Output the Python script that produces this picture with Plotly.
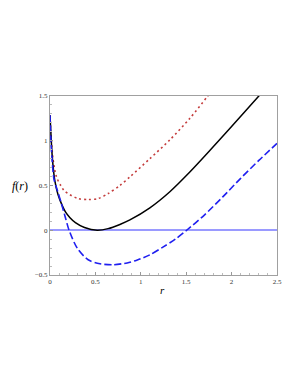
import plotly.graph_objects as go

# Black solid curve
r_black = [0, 0.01, 0.025, 0.052, 0.088, 0.135, 0.17, 0.22, 0.28, 0.38, 0.52, 0.64, 0.77, 0.88,
           1.10, 1.32, 1.54, 1.76, 1.98, 2.30, 2.40]
f_black = [1.285, 1.08, 0.82, 0.56, 0.40, 0.275, 0.205, 0.14, 0.085, 0.03, 0.0, 0.018, 0.065, 0.115,
           0.25, 0.43, 0.65, 0.89, 1.136, 1.50, 1.615]

# Red dotted curve
r_red = [0, 0.01, 0.033, 0.07, 0.118, 0.15, 0.198, 0.31, 0.42, 0.53, 0.64, 0.77, 0.88,
         1.10, 1.32, 1.54, 1.73, 1.80]
f_red = [1.285, 1.08, 0.80, 0.60, 0.50, 0.45, 0.41, 0.354, 0.343, 0.354, 0.41, 0.50, 0.596,
         0.80, 1.01, 1.25, 1.49, 1.58]

# Blue dashed curve
r_blue = [0, 0.01, 0.025, 0.044, 0.08, 0.125, 0.17, 0.21, 0.30, 0.42, 0.55, 0.70, 0.85, 0.955,
          1.10, 1.248, 1.38, 1.505, 1.70, 1.90, 2.10, 2.30, 2.50]
f_blue = [1.285, 1.0, 0.76, 0.57, 0.45, 0.30, 0.14, 0.0, -0.20, -0.33, -0.375, -0.385, -0.365, -0.335,
          -0.275, -0.186, -0.10, 0.0, 0.17, 0.37, 0.58, 0.78, 0.97]

x_ticks = [0, 0.5, 1, 1.5, 2, 2.5]
x_labels = ["0", "0.5", "1", "1.5", "2", "2.5"]
y_ticks = [-0.5, 0, 0.5, 1, 1.5]
y_labels = ["\u22120.5", "0", "0.5", "1", "1.5"]

fig = go.Figure()
fig.add_trace(go.Scatter(x=r_red, y=f_red, mode="lines", line=dict(color="#c43c3c", width=1.6, dash="2px,3px", shape="spline", smoothing=0.8), showlegend=False))
fig.add_trace(go.Scatter(x=r_black, y=f_black, mode="lines", line=dict(color="black", width=1.5, shape="spline", smoothing=0.8), showlegend=False))
fig.add_trace(go.Scatter(x=r_blue, y=f_blue, mode="lines", line=dict(color="#1f1ff0", width=1.6, dash="7px,3px", shape="spline", smoothing=0.8), showlegend=False))

tickfont = dict(family="Liberation Serif", size=7, color="#333333")
fig.update_xaxes(range=[0, 2.5], tickvals=x_ticks, ticktext=x_labels, ticks="inside", ticklen=3,
                 tickcolor="#999999", showgrid=False, zeroline=False, showline=True, linecolor="#a0a0a0",
                 linewidth=1, mirror=True, tickfont=tickfont,
                 minor=dict(ticks="inside", ticklen=2, dtick=0.1, tickcolor="#bbbbbb", showgrid=False))
fig.update_yaxes(range=[-0.5, 1.5], tickvals=y_ticks, ticktext=y_labels, ticks="inside", ticklen=3,
                 tickcolor="#999999", showgrid=False, zeroline=True, zerolinecolor="#9a9aff", zerolinewidth=1.5,
                 showline=True, linecolor="#a0a0a0", linewidth=1, mirror=True, tickfont=tickfont,
                 minor=dict(ticks="inside", ticklen=2, dtick=0.1, tickcolor="#bbbbbb", showgrid=False))

fig.add_annotation(text="<i>f</i>(<i>r</i>)", xref="paper", yref="paper", x=-0.175, y=0.5,
                   showarrow=False, font=dict(family="Liberation Serif", size=12, color="black"))
fig.add_annotation(text="<i>r</i>", xref="paper", yref="paper", x=0.495, y=-0.13,
                   showarrow=False, font=dict(family="Liberation Serif", size=11, color="black"))

fig.update_layout(width=292, height=380, margin=dict(l=42, r=23, t=88, b=113),
                  paper_bgcolor="white", plot_bgcolor="white")
fig.write_html("out.html")
